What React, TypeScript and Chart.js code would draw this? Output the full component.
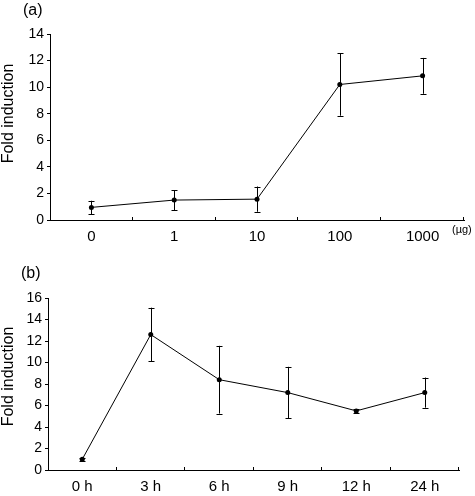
import React, { useEffect, useRef } from "react";
import { Chart, registerables } from "chart.js";

Chart.register(...registerables);

const doseLabels = ["0", "1", "10", "100", "1000"];
const doseMean = [0.95, 1.5, 1.57, 10.2, 10.85];
const doseErr = [0.5, 0.75, 0.95, 2.35, 1.35];

const timeLabels = ["0 h", "3 h", "6 h", "9 h", "12 h", "24 h"];
const timeMean = [1.0, 12.6, 8.4, 7.2, 5.5, 7.2];
const timeErr = [0.15, 2.5, 3.15, 2.4, 0.17, 1.4];

const FONT = "'Liberation Sans', Arial, Helvetica, sans-serif";

type PanelCfg = {
  labels: string[];
  mean: number[];
  err: number[];
  yMax: number;
  panel: string;
  unit?: string;
  axisWidth: number;
  xHeight: number;
  pad: { top: number; right: number };
  titleY: number;
  panelY: number;
  panelX: number;
};

function makeChart(canvas: HTMLCanvasElement, cfg: PanelCfg) {
  const extras = {
    id: "extras",
    afterDatasetsDraw(chart: any) {
      const ctx = chart.ctx;
      const xs = chart.scales.x;
      const ys = chart.scales.y;
      ctx.save();
      ctx.strokeStyle = "#000";
      ctx.lineWidth = 1;
      cfg.mean.forEach((m, i) => {
        const x = Math.round(xs.getPixelForValue(i)) + 0.5;
        const yt = ys.getPixelForValue(m + cfg.err[i]);
        const yb = ys.getPixelForValue(m - cfg.err[i]);
        ctx.beginPath();
        ctx.moveTo(x, yt);
        ctx.lineTo(x, yb);
        ctx.moveTo(x - 3, Math.round(yt) + 0.5);
        ctx.lineTo(x + 3, Math.round(yt) + 0.5);
        ctx.moveTo(x - 3, Math.round(yb) + 0.5);
        ctx.lineTo(x + 3, Math.round(yb) + 0.5);
        ctx.stroke();
      });
      ctx.restore();
    },
    afterDraw(chart: any) {
      const ctx = chart.ctx;
      const xs = chart.scales.x;
      const area = chart.chartArea;
      ctx.save();
      ctx.strokeStyle = "#000";
      ctx.lineWidth = 1;
      const n = cfg.labels.length;
      const tickXs: number[] = [];
      for (let i = 0; i < n - 1; i++) {
        tickXs.push((xs.getPixelForValue(i) + xs.getPixelForValue(i + 1)) / 2);
      }
      tickXs.push(area.right);
      ctx.beginPath();
      tickXs.forEach((tx) => {
        const x = Math.round(tx) - 0.5;
        ctx.moveTo(x, area.bottom);
        ctx.lineTo(x, area.bottom - 3);
      });
      ctx.stroke();

      ctx.fillStyle = "#000";
      ctx.textAlign = "left";
      ctx.textBaseline = "middle";
      ctx.font = `16px ${FONT}`;
      ctx.fillText(cfg.panel, cfg.panelX, cfg.panelY);
      if (cfg.unit) {
        ctx.font = `11px ${FONT}`;
        ctx.fillText(cfg.unit, 452, area.bottom + 10);
      }
      ctx.translate(9, cfg.titleY);
      ctx.rotate(-Math.PI / 2);
      ctx.textAlign = "center";
      ctx.font = `16px ${FONT}`;
      ctx.fillText("Fold induction", 0, 0);
      ctx.restore();
    },
  };

  return new Chart(canvas, {
    type: "line",
    data: {
      labels: cfg.labels,
      datasets: [
        {
          data: cfg.mean,
          borderColor: "#000",
          backgroundColor: "#000",
          borderWidth: 1,
          pointRadius: 2.5,
          pointBorderWidth: 0,
          pointBackgroundColor: "#000",
          tension: 0,
        },
      ],
    },
    options: {
      responsive: false,
      animation: false,
      devicePixelRatio: 1,
      layout: { padding: { top: cfg.pad.top, right: cfg.pad.right, left: 0, bottom: 0 } },
      plugins: { legend: { display: false }, tooltip: { enabled: false }, title: { display: false } },
      scales: {
        x: {
          offset: true,
          grid: { display: false, drawTicks: false },
          border: { display: true, color: "#000", width: 1 },
          ticks: { color: "#000", font: { family: FONT, size: 15 }, padding: 8, maxRotation: 0 },
          afterFit: (s: any) => {
            s.height = cfg.xHeight;
          },
        },
        y: {
          min: 0,
          max: cfg.yMax,
          grid: { display: true, drawOnChartArea: false, drawTicks: true, tickLength: 3, color: "#000" },
          border: { display: true, color: "#000", width: 1 },
          ticks: { stepSize: 2, color: "#000", font: { family: FONT, size: 14 }, padding: 3 },
          afterFit: (s: any) => {
            s.width = cfg.axisWidth;
          },
        },
      },
    },
    plugins: [extras],
  } as any);
}

function Panel({ cfg }: { cfg: PanelCfg }) {
  const ref = useRef<HTMLCanvasElement | null>(null);
  useEffect(() => {
    if (!ref.current) return;
    const c = makeChart(ref.current, cfg);
    return () => c.destroy();
  }, []);
  return <canvas ref={ref} width={475} height={248} style={{ display: "block", width: 475, height: 248 }} />;
}

const panelA: PanelCfg = {
  labels: doseLabels,
  mean: doseMean,
  err: doseErr,
  yMax: 14,
  panel: "(a)",
  unit: "(\u00b5g)",
  axisWidth: 50,
  xHeight: 28,
  pad: { top: 34, right: 11 },
  titleY: 113.5,
  panelY: 11,
  panelX: 23,
};

const panelB: PanelCfg = {
  labels: timeLabels,
  mean: timeMean,
  err: timeErr,
  yMax: 16,
  panel: "(b)",
  axisWidth: 48,
  xHeight: 26,
  pad: { top: 50, right: 16 },
  titleY: 128.5,
  panelY: 26,
  panelX: 21,
};

export default function App() {
  return (
    <div style={{ position: "fixed", left: 0, top: 0, width: 475, height: 496, background: "#fff" }}>
      <Panel cfg={panelA} />
      <Panel cfg={panelB} />
    </div>
  );
}
